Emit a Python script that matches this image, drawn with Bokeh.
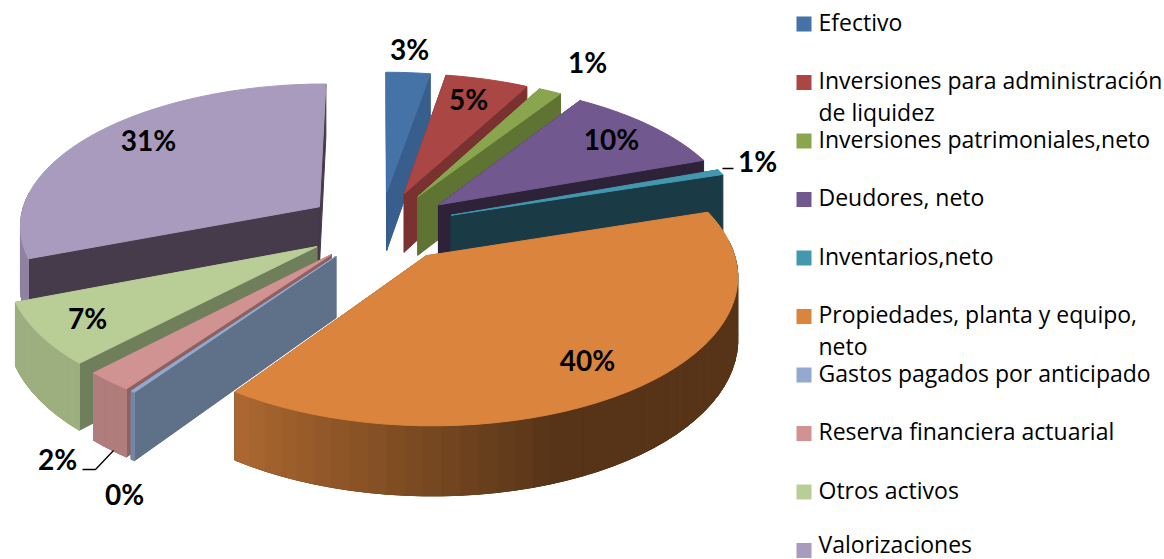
import math
from bokeh.plotting import figure
from bokeh.models import ColumnDataSource
from bokeh.core.properties import value
from bokeh.embed import file_html
from bokeh.resources import INLINE

categories = ["Efectivo", "Inversiones para administración\nde liquidez", "Inversiones patrimoniales,neto",
              "Deudores, neto", "Inventarios,neto", "Propiedades, planta y equipo,\nneto",
              "Gastos pagados por anticipado", "Reserva financiera actuarial", "Otros activos", "Valorizaciones"]
shares = [2.7, 5.1, 1.4, 10.3, 0.6, 39.6, 0.2, 2.2, 7.0, 30.9]
labels = ["3%", "5%", "1%", "10%", "1%", "40%", "0%", "2%", "7%", "31%"]

top_colors = ["#4573a7", "#aa4644", "#89a54e", "#71588f", "#4298af", "#db843d", "#93a9cf", "#d19392", "#b9cd96", "#a99bbd"]
face_colors = ["#375e8c", "#7a3230", "#5f7433", "#2e2238", "#1a3a45", "#7a4a22", "#5f7089", "#8f6060", "#6f7f5c", "#453b4a"]

# layout of the projected pie (page pixels)
CX, CY, RX, RY, K, EXPLODE, DEPTH = 380.0, 226.0, 301.0, 142.0, 0.12, 0.25, 60.0
DRAW_ORDER = [9, 0, 1, 2, 3, 4, 8, 7, 6, 5]
LABEL_AT = [(409, 48), (468, 98), (587, 61), (611, 138), (757, 160), (587, 359), (124, 493), (57, 458), (87, 317), (148, 139)]
LEGEND_X, LEGEND_Y0, LEGEND_STEP, LEGEND_TEXT_MAX_Y = 796, 23.5, 58.5, 543.5


def project(X, Y, z=0.0):
    s = 1.0 / (1.0 - K * Y)
    return CX + RX * X * s, CY + RY * Y * s + DEPTH * z * s


def mix(color, f):
    r, g, b = (int(color[i:i + 2], 16) for i in (1, 3, 5))
    return "#%02x%02x%02x" % (int(r * f), int(g * f), int(b * f))


def rim_shade(t):
    d = math.degrees(t) % 360
    if d < 160:
        return 0.4
    if d < 216:
        return 0.4 + 0.4 * (d - 160) / 56
    return 0.85


xs, ys, fills, lines = [], [], [], []


def add(points, fill, line=None):
    xs.append([q[0] for q in points])
    ys.append([q[1] for q in points])
    fills.append(fill)
    lines.append(line or fill)


total = sum(shares)
spans = []
acc = 0.0
for v in shares:
    spans.append((acc / total * 2 * math.pi, (acc + v) / total * 2 * math.pi))
    acc += v

for i in DRAW_ORDER:
    t0, t1 = spans[i]
    m = (t0 + t1) / 2
    ax, ay = EXPLODE * math.sin(m), -EXPLODE * math.cos(m)
    n = max(3, int((t1 - t0) / math.radians(3)))
    ts = [t0 + (t1 - t0) * j / n for j in range(n + 1)]
    rim = [(ax + math.sin(t), ay - math.cos(t)) for t in ts]
    # cut faces
    for (rx_, ry_) in (rim[0], rim[-1]):
        add([project(ax, ay), project(rx_, ry_), project(rx_, ry_, 1), project(ax, ay, 1)], face_colors[i])
    # outer wall, only where it faces the viewer, drawn in shaded strips
    front = [j for j in range(n) if -math.cos((ts[j] + ts[j + 1]) / 2) > -0.12]
    if front:
        pts = [rim[j] for j in front] + [rim[front[-1] + 1]]
        add([project(*q) for q in pts] + [project(*q, 1) for q in reversed(pts)],
            mix(top_colors[i], rim_shade((ts[front[0]] + ts[front[-1]]) / 2)))
    for j in front:
        a, b = rim[j], rim[j + 1]
        add([project(*a), project(*b), project(*b, 1), project(*a, 1)],
            mix(top_colors[i], rim_shade((ts[j] + ts[j + 1]) / 2)))
    # top surface
    add([project(ax, ay)] + [project(*q) for q in rim], top_colors[i])

p = figure(width=1164, height=559, x_range=(0, 1164), y_range=(559, 0), output_backend="svg",
           toolbar_location=None, min_border=0, outline_line_color=None)
p.axis.visible = False
p.grid.visible = False

p.patches("xs", "ys", source=ColumnDataSource(dict(xs=xs, ys=ys, fill=fills, line=lines)),
          fill_color="fill", line_color="line", line_width=1.0)

# leader lines
p.line([722, 733], [168, 168], line_color="#000000", line_width=1.3)
p.line([82, 95, 113], [469, 469, 450], line_color="#000000", line_width=1.3)

p.text([q[0] for q in LABEL_AT], [q[1] for q in LABEL_AT], text=labels, text_font=value("Lato"),
       text_font_style="bold", text_font_size="28px", text_align="center", text_baseline="middle",
       text_color="#000000")

# legend
for i, name in enumerate(categories):
    y = LEGEND_Y0 + i * LEGEND_STEP
    p.scatter([LEGEND_X + 7.5], [y], marker="square", size=15, fill_color=top_colors[i], line_color=None)
    for j, part in enumerate(name.split("\n")):
        p.text([818], [min(y - 2.5 + j * 32, LEGEND_TEXT_MAX_Y)], text=[part], text_font=value("Open Sans"),
               text_font_size="23px", text_align="left", text_baseline="middle", text_color="#000000")

open("out.html", "w").write(file_html(p, INLINE))
